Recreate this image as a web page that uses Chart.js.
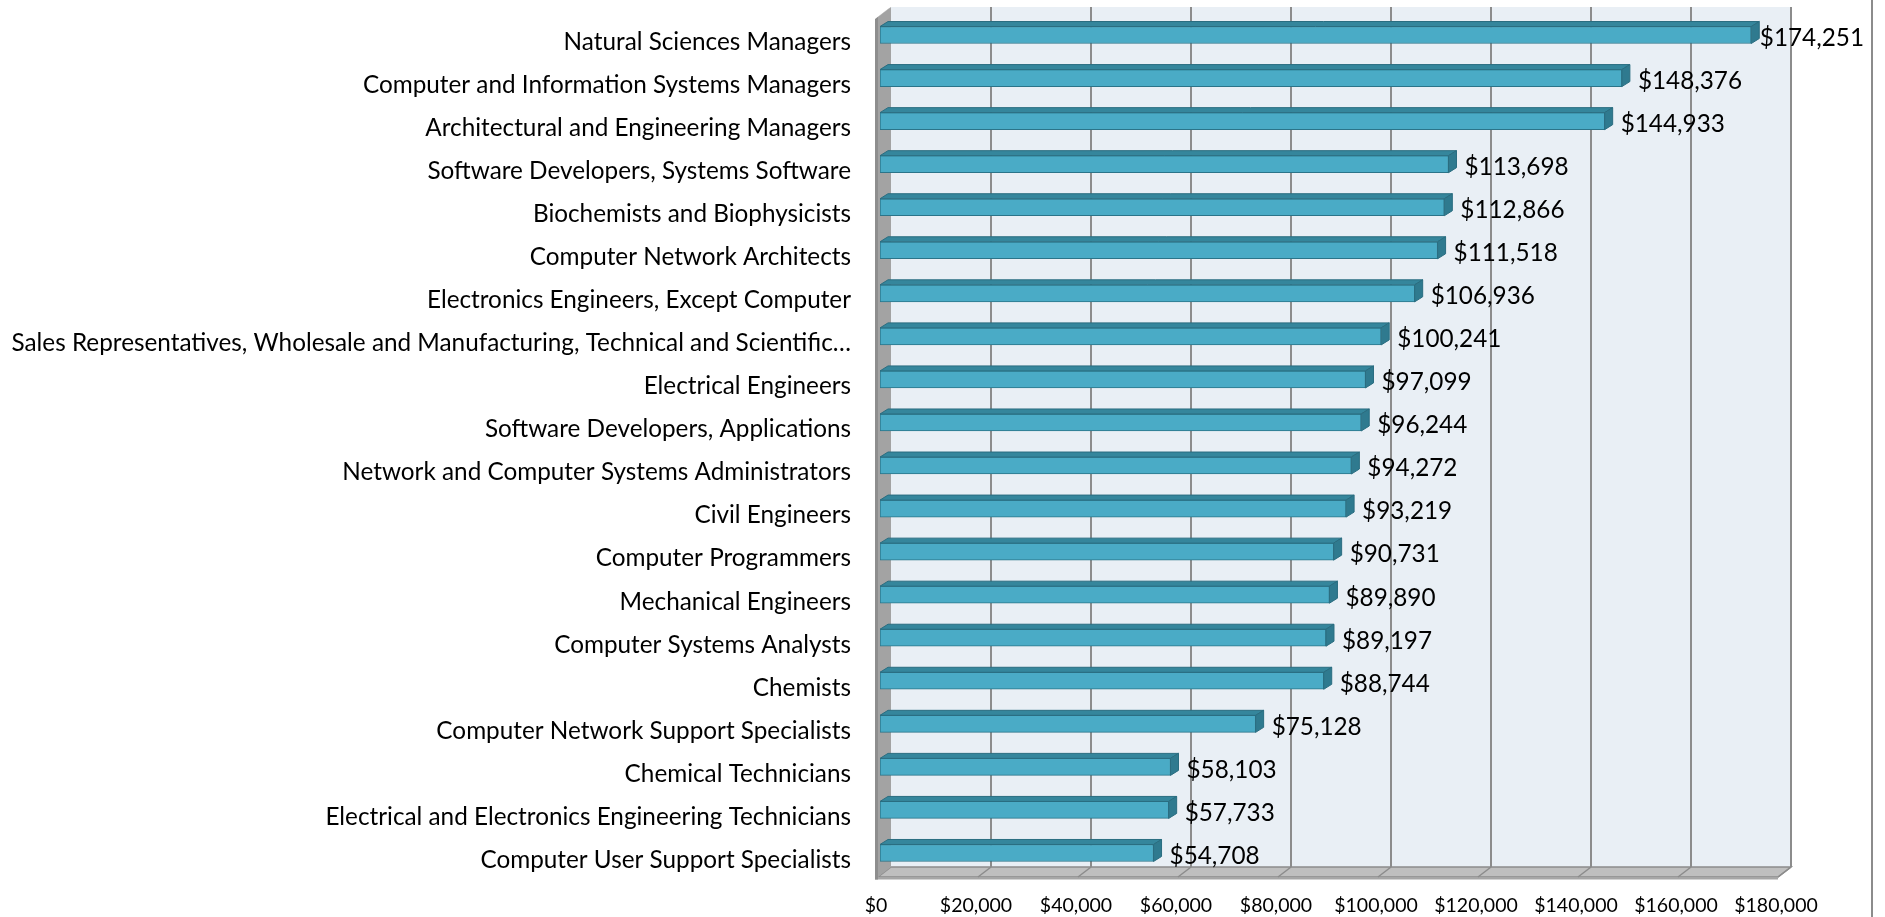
<!DOCTYPE html>
<html><head><meta charset="utf-8">
<script src="https://cdn.jsdelivr.net/npm/chart.js@4"></script>
<style>html,body{margin:0;padding:0;background:#fff;overflow:hidden}#wrap{width:1885px;height:917px;position:relative}</style>
</head><body><div id="wrap"><canvas id="c" width="1885" height="917"></canvas></div>
<script>
const categories = [
  "Natural Sciences Managers",
  "Computer and Information Systems Managers",
  "Architectural and Engineering Managers",
  "Software Developers, Systems Software",
  "Biochemists and Biophysicists",
  "Computer Network Architects",
  "Electronics Engineers, Except Computer",
  "Sales Representatives, Wholesale and Manufacturing, Technical and Scientific…",
  "Electrical Engineers",
  "Software Developers, Applications",
  "Network and Computer Systems Administrators",
  "Civil Engineers",
  "Computer Programmers",
  "Mechanical Engineers",
  "Computer Systems Analysts",
  "Chemists",
  "Computer Network Support Specialists",
  "Chemical Technicians",
  "Electrical and Electronics Engineering Technicians",
  "Computer User Support Specialists"
];
const salaries = [174251,148376,144933,113698,112866,111518,106936,100241,97099,96244,94272,93219,90731,89890,89197,88744,75128,58103,57733,54708];
const tickValues = [0,20000,40000,60000,80000,100000,120000,140000,160000,180000];

const fmt = v => '$' + Number(v).toLocaleString('en-US');
const FONT = 'Lato';
const DX = 13, DY = -10;   // wall depth offset
const BDX = 8, BDY = -5;   // bar depth offset

const threeD = {
  id: 'threeD',
  beforeDatasetsDraw(chart) {
    const ctx = chart.ctx, xs = chart.scales.x, a = chart.chartArea;
    const maxV = tickValues[tickValues.length - 1];
    const fx = v => xs.getPixelForValue(v) - 2;
    const bx = v => fx(v) + DX;
    const backTop = a.top - 6.5, backBottom = a.bottom - 7.5;
    const frontTop = backTop - DY, frontBottom = backBottom - DY;
    ctx.save();
    ctx.fillStyle = '#e9eff5';
    ctx.fillRect(bx(0), backTop, bx(maxV) - bx(0), backBottom - backTop);
    ctx.strokeStyle = '#8c8c8c';
    ctx.lineWidth = 2;
    tickValues.forEach(v => {
      if (v === 0) return;
      ctx.beginPath();
      ctx.moveTo(bx(v), backTop);
      ctx.lineTo(bx(v), backBottom);
      ctx.stroke();
    });
    ctx.beginPath();
    ctx.moveTo(fx(0), frontBottom);
    ctx.lineTo(bx(0), backBottom);
    ctx.lineTo(bx(maxV), backBottom);
    ctx.lineTo(fx(maxV), frontBottom);
    ctx.closePath();
    ctx.fillStyle = '#bfbfbf';
    ctx.fill();
    ctx.lineWidth = 1.5;
    ctx.strokeStyle = '#8c8c8c';
    ctx.stroke();
    ctx.fillStyle = '#a6a6a6';
    ctx.fillRect(fx(0) - 3, frontBottom, fx(maxV) - fx(0) + 3, 2.5);
    tickValues.forEach(v => {
      if (v === 0) return;
      ctx.beginPath();
      ctx.moveTo(bx(v), backBottom);
      ctx.lineTo(fx(v), frontBottom);
      ctx.stroke();
    });
    ctx.beginPath();
    ctx.moveTo(fx(0), frontTop);
    ctx.lineTo(bx(0), backTop);
    ctx.lineTo(bx(0), backBottom);
    ctx.lineTo(fx(0), frontBottom);
    ctx.closePath();
    ctx.fillStyle = '#a3a3a3';
    ctx.fill();
    ctx.beginPath();
    ctx.moveTo(fx(0) - 3, frontTop + 2);
    ctx.lineTo(bx(0) - 3, backTop + 2);
    ctx.lineTo(bx(0), backTop);
    ctx.lineTo(fx(0), frontTop);
    ctx.lineTo(fx(0), frontBottom + 2.5);
    ctx.lineTo(fx(0) - 3, frontBottom + 2.5);
    ctx.closePath();
    ctx.fillStyle = '#8e8e8e';
    ctx.fill();
    ctx.restore();
  },
  afterDatasetsDraw(chart) {
    const ctx = chart.ctx;
    const meta = chart.getDatasetMeta(0);
    ctx.save();
    meta.data.forEach((el, i) => {
      const p = el.getProps(['x', 'y', 'base', 'height'], true);
      const top = p.y - p.height / 2, bottom = p.y + p.height / 2;
      ctx.beginPath();
      ctx.moveTo(p.base, top);
      ctx.lineTo(p.base + BDX, top + BDY);
      ctx.lineTo(p.x + BDX, top + BDY);
      ctx.lineTo(p.x, top);
      ctx.closePath();
      ctx.fillStyle = '#35869c';
      ctx.fill();
      ctx.strokeStyle = '#2a6d80';
      ctx.lineWidth = 1;
      ctx.stroke();
      ctx.beginPath();
      ctx.moveTo(p.x, top);
      ctx.lineTo(p.x + BDX, top + BDY);
      ctx.lineTo(p.x + BDX, bottom + BDY);
      ctx.lineTo(p.x, bottom);
      ctx.closePath();
      ctx.fillStyle = '#2f7a8f';
      ctx.fill();
      ctx.stroke();
      ctx.fillStyle = '#000';
      ctx.font = '24.3px ' + FONT;
      ctx.textAlign = 'left';
      ctx.textBaseline = 'middle';
      const txt = fmt(salaries[i]);
      const w = ctx.measureText(txt).width;
      const tx = Math.min(p.x + BDX + 8, 1864 - w);
      ctx.fillText(txt, tx, p.y + 3);
    });
    ctx.strokeStyle = '#8c8c8c';
    ctx.lineWidth = 2;
    ctx.beginPath();
    ctx.moveTo(1872, 0);
    ctx.lineTo(1872, 917);
    ctx.stroke();
    ctx.restore();
  }
};

function draw() {
  new Chart(document.getElementById('c'), {
    type: 'bar',
    data: {
      labels: categories,
      datasets: [{
        data: salaries,
        backgroundColor: '#4aabc6',
        borderColor: '#2b7489',
        borderWidth: 1,
        borderSkipped: false,
        barThickness: 17
      }]
    },
    options: {
      indexAxis: 'y',
      responsive: false,
      devicePixelRatio: 1,
      animation: false,
      events: [],
      layout: { padding: { left: 0, right: 105, top: 13.5, bottom: 0 } },
      plugins: { legend: { display: false }, tooltip: { enabled: false } },
      scales: {
        x: {
          min: 0, max: tickValues[tickValues.length - 1],
          afterBuildTicks: s => { s.ticks = tickValues.map(v => ({ value: v })); },
          afterFit: s => { s.height = 42.5; s.paddingLeft = 0; s.paddingRight = 0; },
          grid: { display: false, drawTicks: false },
          border: { display: false },
          ticks: {
            callback: v => fmt(v),
            autoSkip: false, maxRotation: 0, minRotation: 0,
            labelOffset: -4, padding: 20,
            color: '#000', font: { family: FONT, size: 19.5 }
          }
        },
        y: {
          afterFit: s => { s.width = 880; s.paddingTop = 0; s.paddingBottom = 0; },
          grid: { display: false, drawTicks: false },
          border: { display: false },
          ticks: {
            autoSkip: false, padding: 29, labelOffset: 7,
            color: '#000', font: { family: FONT, size: 24.3 }
          }
        }
      }
    },
    plugins: [threeD]
  });
}
if (document.fonts && document.fonts.load) {
  Promise.all([document.fonts.load('24px Lato'), document.fonts.load('19px Lato')]).then(draw, draw);
} else { draw(); }
</script>
</body></html>
